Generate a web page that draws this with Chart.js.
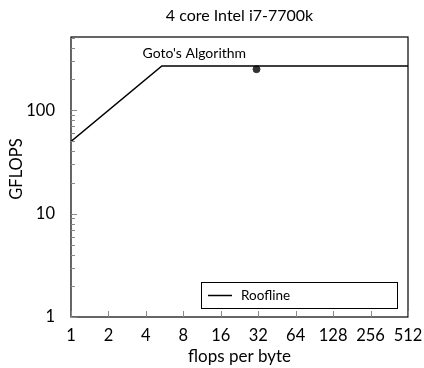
<!DOCTYPE html>
<html>
<head>
<meta charset="utf-8">
<script src="https://cdn.jsdelivr.net/npm/chart.js@4/dist/chart.umd.min.js"></script>
<style>
  body { margin: 0; background: #fff; }
  #wrap { width: 424px; height: 368px; }
</style>
</head>
<body>
<div id="wrap"><canvas id="chart" width="424" height="368"></canvas></div>
<script>
// data
const rooflineX = [1, 5.376, 512];
const rooflineY = [50, 268.8, 268.8];
const gotoX = [31];
const gotoY = [250];
const xTicks = [1, 2, 4, 8, 16, 32, 64, 128, 256, 512];
const yTicks = [1, 10, 100];
const yMinor = [2, 3, 4, 5, 6, 7, 8, 9, 20, 30, 40, 50, 60, 70, 80, 90, 200, 300, 400, 500];
const gotoLabel = "Goto's Algorithm";
const gotoLabelAt = [9.8, 355];
const chartTitle = '4 core Intel i7-7700k';
const yTitle = 'GFLOPS';

const FONT = 'Lato, "DejaVu Sans", sans-serif';

// title, y title, frame, inside ticks, point label and legend box
const decor = {
    id: 'decor',
    afterDraw(chart) {
        const ctx = chart.ctx;
        const a = chart.chartArea;
        const xs = chart.scales.x, ys = chart.scales.y;
        const midX = (a.left + a.right) / 2;
        ctx.save();
        ctx.fillStyle = '#000';
        ctx.textAlign = 'center';
        ctx.textBaseline = 'middle';
        ctx.font = '16px ' + FONT;
        ctx.fillText(chartTitle, midX, 16);

        ctx.save();
        ctx.translate(17, (a.top + a.bottom) / 2 - 8);
        ctx.rotate(-Math.PI / 2);
        ctx.font = '16.5px ' + FONT;
        ctx.fillText(yTitle, 0, 0);
        ctx.restore();

        ctx.strokeStyle = '#000';
        ctx.lineWidth = 1.2;
        ctx.strokeRect(a.left, a.top, a.right - a.left, a.bottom - a.top);

        ctx.strokeStyle = '#888';
        ctx.lineWidth = 1;
        ctx.beginPath();
        xTicks.forEach(v => {
            const px = Math.round(xs.getPixelForValue(v)) + 0.5;
            ctx.moveTo(px, a.bottom); ctx.lineTo(px, a.bottom - 6);
        });
        yTicks.forEach(v => {
            const py = Math.round(ys.getPixelForValue(v)) + 0.5;
            ctx.moveTo(a.left, py); ctx.lineTo(a.left + 6, py);
        });
        yMinor.forEach(v => {
            const py = Math.round(ys.getPixelForValue(v)) + 0.5;
            ctx.moveTo(a.left, py); ctx.lineTo(a.left + 4, py);
        });
        ctx.stroke();

        // label near the measured point
        ctx.fillStyle = '#000';
        ctx.font = '14px ' + FONT;
        ctx.fillText(gotoLabel, xs.getPixelForValue(gotoLabelAt[0]), ys.getPixelForValue(gotoLabelAt[1]));

        // legend box, bottom right
        const bx = a.right - 207, by = a.bottom - 35, bw = 196, bh = 26;
        ctx.fillStyle = '#fff';
        ctx.fillRect(bx, by, bw, bh);
        ctx.strokeStyle = '#000';
        ctx.lineWidth = 1;
        ctx.strokeRect(bx + 0.5, by + 0.5, bw, bh);
        ctx.lineWidth = 1.5;
        ctx.beginPath();
        ctx.moveTo(bx + 7, by + bh / 2 + 0.5);
        ctx.lineTo(bx + 31, by + bh / 2 + 0.5);
        ctx.stroke();
        ctx.fillStyle = '#000';
        ctx.textAlign = 'left';
        ctx.font = '13.5px ' + FONT;
        ctx.fillText(chart.data.datasets[0].label, bx + 40, by + bh / 2 + 1);
        ctx.restore();
    }
};

new Chart(document.getElementById('chart'), {
    type: 'scatter',
    data: {
        datasets: [
            {
                label: 'Roofline',
                data: rooflineX.map((x, i) => ({ x: x, y: rooflineY[i] })),
                showLine: true,
                borderColor: '#000',
                borderWidth: 1.5,
                pointRadius: 0,
                fill: false
            },
            {
                label: gotoLabel,
                data: gotoX.map((x, i) => ({ x: x, y: gotoY[i] })),
                pointRadius: 3.5,
                backgroundColor: '#333',
                borderColor: '#333'
            }
        ]
    },
    options: {
        responsive: false,
        animation: false,
        layout: { padding: { left: 0, right: 16, top: 37, bottom: 0 } },
        plugins: {
            legend: { display: false },
            tooltip: { enabled: false },
            title: { display: false }
        },
        scales: {
            x: {
                type: 'logarithmic',
                min: 1,
                max: 512,
                afterBuildTicks: s => { s.ticks = xTicks.map(v => ({ value: v })); },
                afterFit: s => { s.height = 51; },
                ticks: {
                    color: '#000',
                    font: { family: FONT, size: 16.5 },
                    maxRotation: 0,
                    autoSkip: false,
                    padding: 1,
                    callback: v => String(v)
                },
                grid: { display: false },
                border: { display: false },
                title: {
                    display: true,
                    text: 'flops per byte',
                    color: '#000',
                    font: { family: FONT, size: 17 },
                    padding: { top: 2, bottom: 1 }
                }
            },
            y: {
                type: 'logarithmic',
                min: 1,
                max: 512,
                afterBuildTicks: s => { s.ticks = yTicks.map(v => ({ value: v })); },
                afterFit: s => { s.width = 71; },
                ticks: {
                    color: '#000',
                    font: { family: FONT, size: 16.5 },
                    padding: 8,
                    callback: v => String(v)
                },
                grid: { display: false },
                border: { display: false }
            }
        }
    },
    plugins: [decor]
});
</script>
</body>
</html>
